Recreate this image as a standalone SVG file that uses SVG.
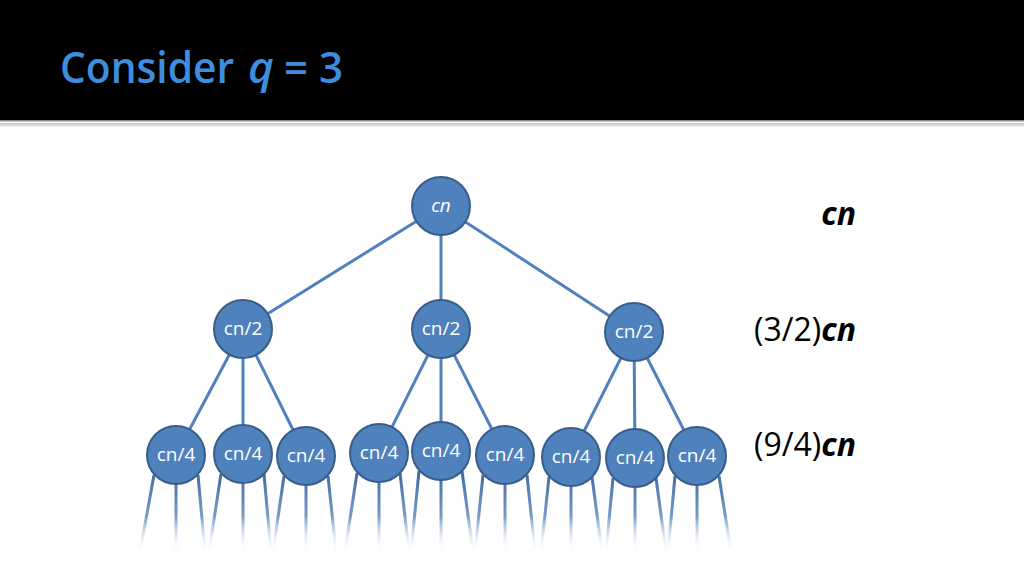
<svg xmlns="http://www.w3.org/2000/svg" width="1024" height="576" viewBox="0 0 1024 576">
<defs>
<linearGradient id="sep" x1="0" y1="0" x2="0" y2="1">
<stop offset="0" stop-color="#bdbdbd"/>
<stop offset="1" stop-color="#f4f4f4"/>
</linearGradient>
<linearGradient id="fade" gradientUnits="userSpaceOnUse" x1="0" y1="470" x2="0" y2="554">
<stop offset="0" stop-color="#3a68a0"/>
<stop offset="0.55" stop-color="#5f88bd" stop-opacity="0.85"/>
<stop offset="1" stop-color="#ffffff" stop-opacity="0"/>
</linearGradient>
<style>
.edge{stroke:#4F81BD;stroke-width:3;fill:none}
.fade{stroke:url(#fade);stroke-width:3;fill:none}
.node circle{fill:#4F81BD;stroke:#385D8A;stroke-width:2}
.lbl{font-family:"Open Sans","Lato",sans-serif;font-size:19px;fill:#ffffff;text-anchor:middle}
.sum{font-family:"Open Sans","Lato",sans-serif;font-size:32px;fill:#000000;text-anchor:end}
.bi{font-weight:bold;font-style:italic}
.title{font-family:"Open Sans",Lato,sans-serif;font-size:44px;font-weight:600;fill:#3E8EDE}
</style>
</defs>
<rect x="0" y="0" width="1024" height="576" fill="#ffffff"/>
<rect x="0" y="0" width="1024" height="120" fill="#000000"/>
<rect x="0" y="120" width="1024" height="1.5" fill="#8a8a8a"/>
<rect x="0" y="123" width="1024" height="4" fill="url(#sep)"/>
<text class="title" x="60" y="83" textLength="174" lengthAdjust="spacingAndGlyphs">Consider</text>
<text class="title" x="248" y="83" font-style="italic">q</text>
<text class="title" x="284" y="83" textLength="59" lengthAdjust="spacingAndGlyphs">= 3</text>

<g id="connectors">
<line class="edge" x1="441" y1="206" x2="243" y2="329"/>
<line class="edge" x1="441" y1="206" x2="441" y2="329"/>
<line class="edge" x1="441" y1="206" x2="634" y2="332"/>
<line class="edge" x1="243" y1="329" x2="176" y2="455"/>
<line class="edge" x1="243" y1="329" x2="243" y2="454"/>
<line class="edge" x1="243" y1="329" x2="306" y2="456"/>
<line class="edge" x1="441" y1="329" x2="379" y2="453"/>
<line class="edge" x1="441" y1="329" x2="441" y2="451"/>
<line class="edge" x1="441" y1="329" x2="505" y2="455"/>
<line class="edge" x1="634" y1="332" x2="571" y2="457"/>
<line class="edge" x1="634" y1="332" x2="635" y2="458"/>
<line class="edge" x1="634" y1="332" x2="697" y2="456"/>
<g id="fading">
<line class="fade" x1="154" y1="475" x2="140" y2="552"/><line class="fade" x1="176" y1="484" x2="176" y2="552"/><line class="fade" x1="198" y1="475" x2="205" y2="552"/>
<line class="fade" x1="221" y1="474" x2="209" y2="552"/><line class="fade" x1="243" y1="483" x2="243" y2="552"/><line class="fade" x1="264" y1="474" x2="271" y2="552"/>
<line class="fade" x1="284" y1="476" x2="273" y2="552"/><line class="fade" x1="306" y1="485" x2="306" y2="552"/><line class="fade" x1="328" y1="476" x2="336" y2="552"/>
<line class="fade" x1="357" y1="473" x2="345" y2="552"/><line class="fade" x1="379" y1="482" x2="379" y2="552"/><line class="fade" x1="400" y1="473" x2="409" y2="552"/>
<line class="fade" x1="419" y1="471" x2="411" y2="552"/><line class="fade" x1="441" y1="480" x2="441" y2="552"/><line class="fade" x1="462" y1="471" x2="473" y2="552"/>
<line class="fade" x1="483" y1="475" x2="475" y2="552"/><line class="fade" x1="505" y1="484" x2="505" y2="552"/><line class="fade" x1="527" y1="475" x2="535" y2="552"/>
<line class="fade" x1="549" y1="477" x2="541" y2="552"/><line class="fade" x1="571" y1="486" x2="571" y2="552"/><line class="fade" x1="592" y1="477" x2="602" y2="552"/>
<line class="fade" x1="613" y1="478" x2="606" y2="552"/><line class="fade" x1="635" y1="487" x2="635" y2="552"/><line class="fade" x1="656" y1="478" x2="666" y2="552"/>
<line class="fade" x1="675" y1="476" x2="668" y2="552"/><line class="fade" x1="697" y1="485" x2="697" y2="552"/><line class="fade" x1="719" y1="476" x2="731" y2="552"/>
</g>
</g>

<g id="n0" class="node"><circle cx="441" cy="206" r="29"/><text class="lbl" x="441" y="212" font-style="italic">cn</text></g>
<g id="n1" class="node"><circle cx="243" cy="329" r="29"/><text class="lbl" x="243" y="335">cn/2</text></g>
<g id="n2" class="node"><circle cx="441" cy="329" r="29"/><text class="lbl" x="441" y="335">cn/2</text></g>
<g id="n3" class="node"><circle cx="634" cy="332" r="29"/><text class="lbl" x="634" y="338">cn/2</text></g>
<g id="n4" class="node"><circle cx="176" cy="455" r="29"/><text class="lbl" x="176" y="461">cn/4</text></g>
<g id="n5" class="node"><circle cx="243" cy="454" r="29"/><text class="lbl" x="243" y="460">cn/4</text></g>
<g id="n6" class="node"><circle cx="306" cy="456" r="29"/><text class="lbl" x="306" y="462">cn/4</text></g>
<g id="n7" class="node"><circle cx="379" cy="453" r="29"/><text class="lbl" x="379" y="459">cn/4</text></g>
<g id="n8" class="node"><circle cx="441" cy="451" r="29"/><text class="lbl" x="441" y="457">cn/4</text></g>
<g id="n9" class="node"><circle cx="505" cy="455" r="29"/><text class="lbl" x="505" y="461">cn/4</text></g>
<g id="n10" class="node"><circle cx="571" cy="457" r="29"/><text class="lbl" x="571" y="463">cn/4</text></g>
<g id="n11" class="node"><circle cx="635" cy="458" r="29"/><text class="lbl" x="635" y="464">cn/4</text></g>
<g id="n12" class="node"><circle cx="697" cy="456" r="29"/><text class="lbl" x="697" y="462">cn/4</text></g>

<g id="sums">
<text class="sum" x="856" y="225"><tspan class="bi">cn</tspan></text>
<text class="sum" x="856" y="341">(3/2)<tspan class="bi">cn</tspan></text>
<text class="sum" x="856" y="456">(9/4)<tspan class="bi">cn</tspan></text>
</g>
</svg>
